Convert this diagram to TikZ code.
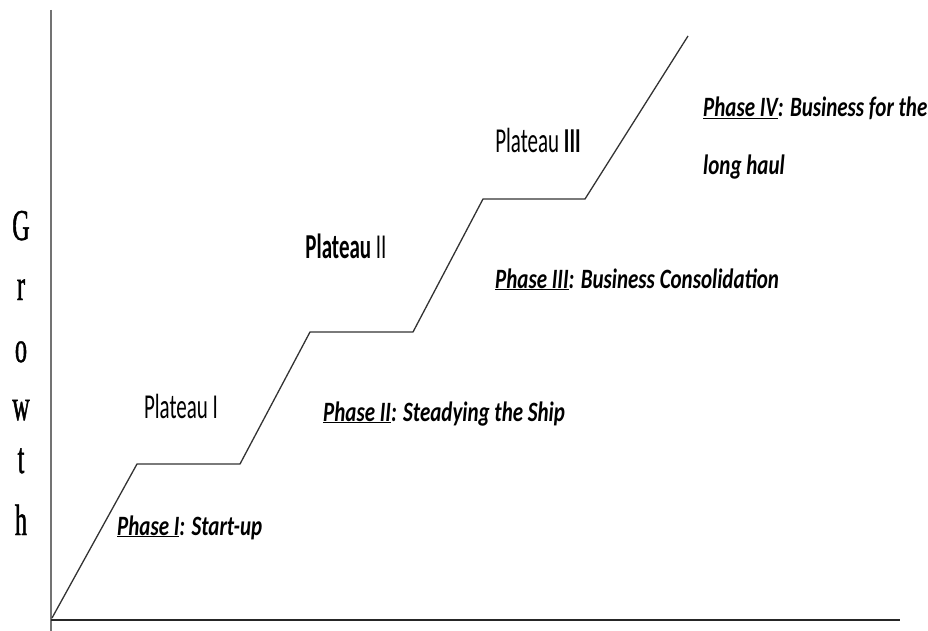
\documentclass[tikz,border=0pt]{standalone}
\usepackage{fontspec}
\newfontfamily\plateaufont[FakeStretch=0.6]{Carlito}
\newfontfamily\phasefont[FakeStretch=0.75]{Carlito}
\newfontfamily\growthfont[FakeStretch=0.55,FakeBold=1]{Liberation Serif}

\begin{document}
\begin{tikzpicture}[x=1pt,y=-1pt,
    plateau/.style={font=\plateaufont\fontsize{35}{35}\selectfont, anchor=base, inner sep=0pt},
    phase/.style={font=\phasefont\bfseries\itshape\fontsize{28}{28}\selectfont, anchor=base west, inner sep=0pt},
    letter/.style={font=\growthfont\fontsize{44}{44}\selectfont, anchor=base, inner sep=0pt}]
    \useasboundingbox (0,0) rectangle (928,631);
    \draw[black!55, line width=1.3pt] (51,10) -- (51,631);
    \draw[black!85, line width=2.2pt] (51,620) -- (900,620);
    \foreach \ch/\y [count=\i] in {G/240,r/300,o/362,w/420,t/473,h/535}
        \node[letter] (g\i) at (21,\y) {\ch};
    \coordinate (o) at (52,618);
    \coordinate (p1a) at (137,464);
    \coordinate (p1b) at (240,464);
    \coordinate (p2a) at (310,332);
    \coordinate (p2b) at (413,332);
    \coordinate (p3a) at (483,199);
    \coordinate (p3b) at (585,199);
    \coordinate (top) at (688,36);
    \draw[black!80, line width=1.3pt] (o) -- (p1a) -- (p1b) -- (p2a) -- (p2b) -- (p3a) -- (p3b) -- (top);
    \node[plateau] (plat1) at (181,418) {Plateau I};
    \node[plateau] (plat2) at (346,258) {\bfseries Plateau \mdseries II};
    \node[plateau] (plat3) at (538,153) {Plateau \bfseries III};
    \node[phase] (ph1) at (117,535) {\underline{Phase I}: Start-up};
    \node[phase] (ph2) at (323,421) {\underline{Phase II}: Steadying the Ship};
    \node[phase] (ph3) at (495,288) {\underline{Phase III}: Business Consolidation};
    \node[phase] (ph4) at (703,117) {\underline{Phase IV}: Business for the};
    \node[phase] (ph4b) at (703,175) {long haul};
\end{tikzpicture}
\end{document}
